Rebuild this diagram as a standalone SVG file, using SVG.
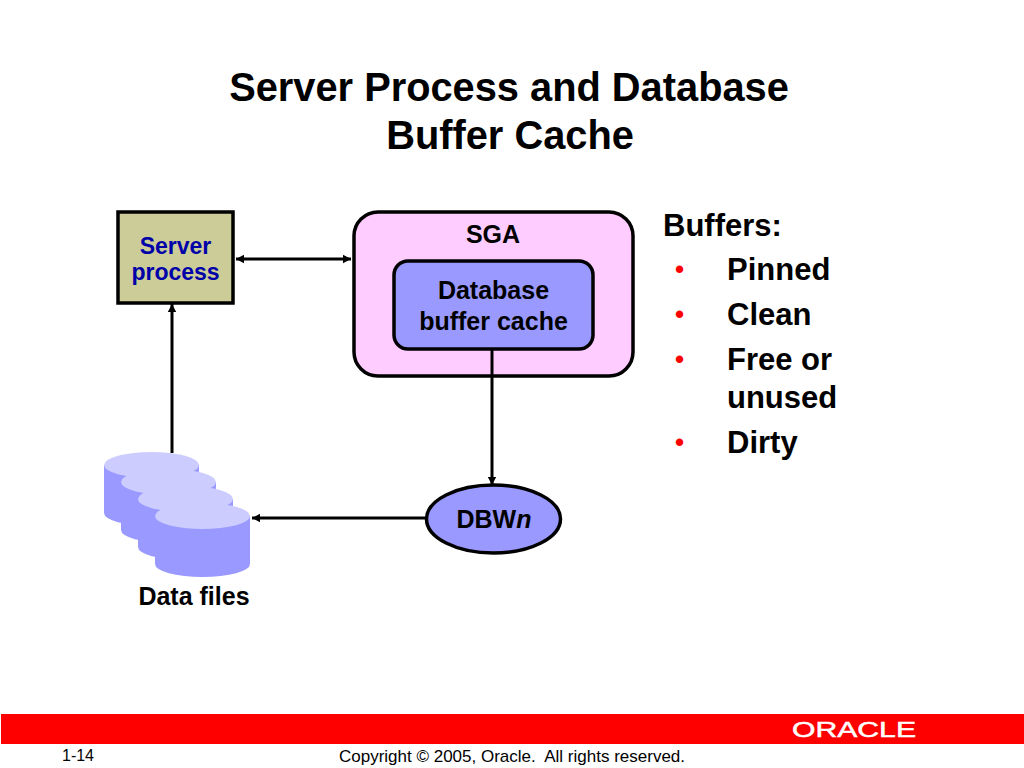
<svg xmlns="http://www.w3.org/2000/svg" width="1024" height="768" viewBox="0 0 1024 768">
<style>
text{font-family:"Liberation Sans",Arial,sans-serif;font-weight:bold;fill:#000;text-anchor:middle}
.title{font-size:39.800px}
.lbl{font-size:25px}
.list{font-size:31px;text-anchor:start}
.bul{font-size:26px;fill:#f00;text-anchor:start}
.foot{font-size:17px;font-weight:normal}
.box{stroke:#000;stroke-width:3.5}
.conn{fill:none;stroke:#000;stroke-width:3}
.side{fill:#9999ff}
.top{fill:#ccccff}
</style>
<defs>
<marker id="ah" markerUnits="userSpaceOnUse" markerWidth="9" markerHeight="10" refX="8" refY="5" orient="auto-start-reverse"><path d="M0 0.8L8 5L0 9.2Z" fill="#000"/></marker>
<g id="cyl"><path class="side" d="M-47.500 0V48A47.500 13 0 0 0 47.500 48V0Z"/><ellipse class="top" cx="0" cy="0" rx="47.500" ry="13"/></g>
</defs>
<rect width="1024" height="768" fill="#fff"/>
<g id="heading">
<text class="title" x="509" y="100.500">Server Process and Database</text>
<text class="title" x="510" y="148.500">Buffer Cache</text>
</g>
<g id="connectors">
<path class="conn" d="M236 259H351" marker-start="url(#ah)" marker-end="url(#ah)"/>
<path class="conn" d="M172 453V304" marker-end="url(#ah)"/>
<path class="conn" d="M492 350V485" marker-end="url(#ah)"/>
<path class="conn" d="M426 518H252" marker-end="url(#ah)"/>
</g>
<g id="server-process">
<rect class="box" x="118" y="212" width="115" height="91" fill="#cccc99"/>
<text class="lbl" x="175.500" y="254" style="font-size:23px;fill:#0000a8">Server</text>
<text class="lbl" x="175.500" y="280" style="font-size:23px;fill:#0000a8">process</text>
</g>
<g id="sga">
<rect class="box" x="354" y="212" width="279" height="164" rx="24" fill="#ffccff"/>
<text class="lbl" x="493" y="243">SGA</text>
</g>
<g id="buffer-cache">
<rect class="box" x="394" y="261" width="199" height="88" rx="14" fill="#9999ff"/>
<text class="lbl" x="493.500" y="299">Database</text>
<text class="lbl" x="493.500" y="330">buffer cache</text>
</g>
<path class="conn" d="M492 350V376"/>
<g id="dbwn">
<ellipse class="box" cx="493.500" cy="519" rx="67" ry="34" fill="#9999ff"/>
<text class="lbl" x="494" y="528">DBW<tspan font-style="italic">n</tspan></text>
</g>
<g id="data-files">
<use href="#cyl" x="151.500" y="465"/>
<use href="#cyl" x="168.500" y="482"/>
<use href="#cyl" x="185.500" y="499"/>
<use href="#cyl" x="202.500" y="516"/>
<text class="lbl" x="194" y="605">Data files</text>
</g>
<g id="buffers">
<text class="list" x="663" y="236">Buffers:</text>
<text class="bul" x="675" y="278">•</text><text class="list" x="727" y="280">Pinned</text>
<text class="bul" x="675" y="323">•</text><text class="list" x="727" y="325">Clean</text>
<text class="bul" x="675" y="368">•</text><text class="list" x="727" y="370">Free or</text>
<text class="list" x="727" y="408">unused</text>
<text class="bul" x="675" y="451">•</text><text class="list" x="727" y="453">Dirty</text>
</g>
<g id="footer">
<rect x="1" y="714" width="1023" height="30" fill="#ff0000"/>
<text x="854" y="737" textLength="124" lengthAdjust="spacingAndGlyphs" style="font-size:22.500px;font-weight:normal;fill:#ffffff;stroke:#ffffff;stroke-width:.5">ORACLE</text>
<text class="foot" x="78" y="761" style="font-size:16px">1-14</text>
<text class="foot" x="512" y="762" xml:space="preserve">Copyright © 2005, Oracle.  All rights reserved.</text>
</g>
</svg>
